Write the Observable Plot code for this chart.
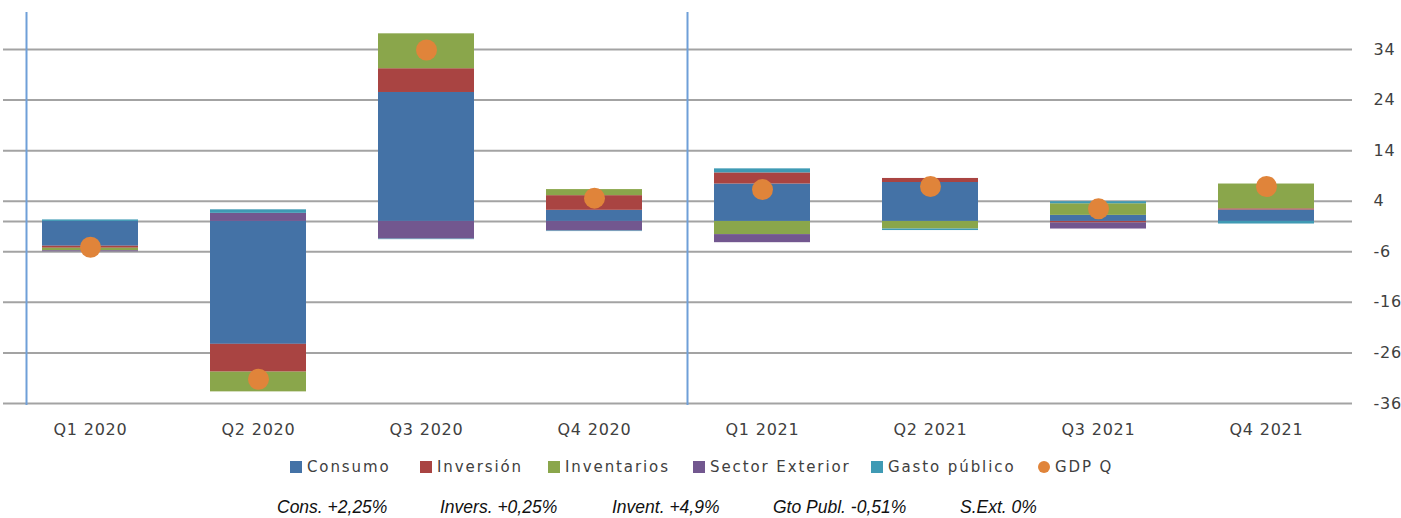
<!DOCTYPE html>
<html>
<head>
<meta charset="utf-8">
<script src="https://cdn.jsdelivr.net/npm/d3@7"></script>
<script src="https://cdn.jsdelivr.net/npm/@observablehq/plot@0.6"></script>
<style>
  html, body { margin: 0; padding: 0; background: #fff; }
  #wrap { position: relative; width: 1401px; height: 518px; overflow: hidden; font-family: "DejaVu Sans", Verdana, sans-serif; }
  #chart { position: absolute; left: 0; top: 0; }
  .leg { position: absolute; top: 457px; font-size: 15px; letter-spacing: 1.9px; color: #404040; white-space: nowrap; line-height: 20px; }
  .sw { display: inline-block; width: 12px; height: 12px; margin-right: 5px; vertical-align: -1px; }
  .dot { border-radius: 50%; width: 12px; height: 12px; }
  .foot { position: absolute; top: 496px; font-family: "Liberation Sans", Arial, sans-serif; font-style: italic; font-size: 17.5px; color: #111; white-space: nowrap; line-height: 22px; }
</style>
</head>
<body>
<div id="wrap">
  <div id="chart"></div>
  <div id="legend"></div>
  <div id="footer"></div>
</div>
<script>
const quarters = ["Q1 2020", "Q2 2020", "Q3 2020", "Q4 2020", "Q1 2021", "Q2 2021", "Q3 2021", "Q4 2021"];
const seriesNames = ["Consumo", "Inversión", "Inventarios", "Sector Exterior", "Gasto público"];
const consumo        = [-4.9, -24.3, 25.5,  2.2,  7.4,  7.7,  1.2,  2.25];
const inversion      = [-0.4,  -5.5,  4.7,  2.9,  2.2,  0.8, -0.3,  0.25];
const inventarios    = [-0.5,  -3.9,  6.9,  1.2, -2.6, -1.5,  2.3,  4.9];
const sectorExterior = [-0.2,   1.6, -3.5, -1.9, -1.6,  0.0, -1.2,  0.0];
const gastoPublico   = [ 0.3,   0.7, -0.1, -0.1,  0.8, -0.3,  0.4, -0.51];
const gdpQ           = [-5.1, -31.2, 33.9,  4.6,  6.3,  6.9,  2.5,  6.9];
const yTicks = [-36, -26, -16, -6, 4, 14, 24, 34];
const separators = ["Q1 2020", "Q1 2021"];
const footerTexts = ["Cons. +2,25%", "Invers. +0,25%", "Invent. +4,9%", "Gto Publ. -0,51%", "S.Ext. 0%"];

const colors = ["#4472a6", "#a94442", "#8aa64b", "#72578f", "#3f9ab4"];
const gdpColor = "#e0843a";

const seriesValues = [consumo, inversion, inventarios, sectorExterior, gastoPublico];
const rows = [];
quarters.forEach((q, i) => {
  seriesNames.forEach((s, j) => rows.push({quarter: q, series: s, value: seriesValues[j][i]}));
});
const gdpRows = quarters.map((q, i) => ({quarter: q, value: gdpQ[i]}));

const chart = Plot.plot({
  width: 1401,
  height: 450,
  marginTop: 49,
  marginBottom: 47,
  marginLeft: 3,
  marginRight: 49,
  style: {fontFamily: "'DejaVu Sans', Verdana, sans-serif", color: "#404040", background: "#fff"},
  x: {domain: quarters, paddingInner: 0.43, paddingOuter: 0.215, label: null},
  y: {domain: [-36, 34], label: null, axis: null},
  color: {domain: seriesNames, range: colors},
  marks: [
    Plot.ruleY(yTicks, {stroke: "#a3a3a3", strokeWidth: 2}),
    Plot.ruleY([0], {stroke: "#a3a3a3", strokeWidth: 2}),
    Plot.ruleX([separators[0]], {x: d => d, y1: -36.4, y2: 41.3, dx: -64, stroke: "#6f9fd8", strokeWidth: 2}),
    Plot.ruleX([separators[1]], {x: d => d, y1: -36.4, y2: 41.3, dx: -75, stroke: "#6f9fd8", strokeWidth: 2}),
    Plot.barY(rows, {x: "quarter", y: "value", fill: "series", z: "series", order: seriesNames}),
    Plot.dot(gdpRows, {x: "quarter", y: "value", r: 10.5, fill: gdpColor, stroke: null}),
    Plot.text(yTicks, {y: d => d, frameAnchor: "right", dx: 21, textAnchor: "start", fontSize: 16, fill: "#404040", text: d => String(d)}),
    Plot.axisX({anchor: "bottom", tickSize: 0, tickPadding: 20, fontSize: 16, fill: "#404040"})
  ]
});
chart.style.letterSpacing = "0.8px";
document.getElementById("chart").appendChild(chart);

// legend
const legendPos = [290, 420, 548, 693, 871, 1038];
const legend = document.getElementById("legend");
seriesNames.concat(["GDP Q"]).forEach((name, i) => {
  const d = document.createElement("div");
  d.className = "leg";
  d.style.left = legendPos[i] + "px";
  const sw = document.createElement("span");
  sw.className = i < 5 ? "sw" : "sw dot";
  sw.style.background = i < 5 ? colors[i] : gdpColor;
  d.appendChild(sw);
  d.appendChild(document.createTextNode(name));
  legend.appendChild(d);
});

// footer
const footPos = [277, 440, 612, 773, 960];
const footer = document.getElementById("footer");
footerTexts.forEach((t, i) => {
  const d = document.createElement("div");
  d.className = "foot";
  d.style.left = footPos[i] + "px";
  d.textContent = t;
  footer.appendChild(d);
});
</script>
</body>
</html>
